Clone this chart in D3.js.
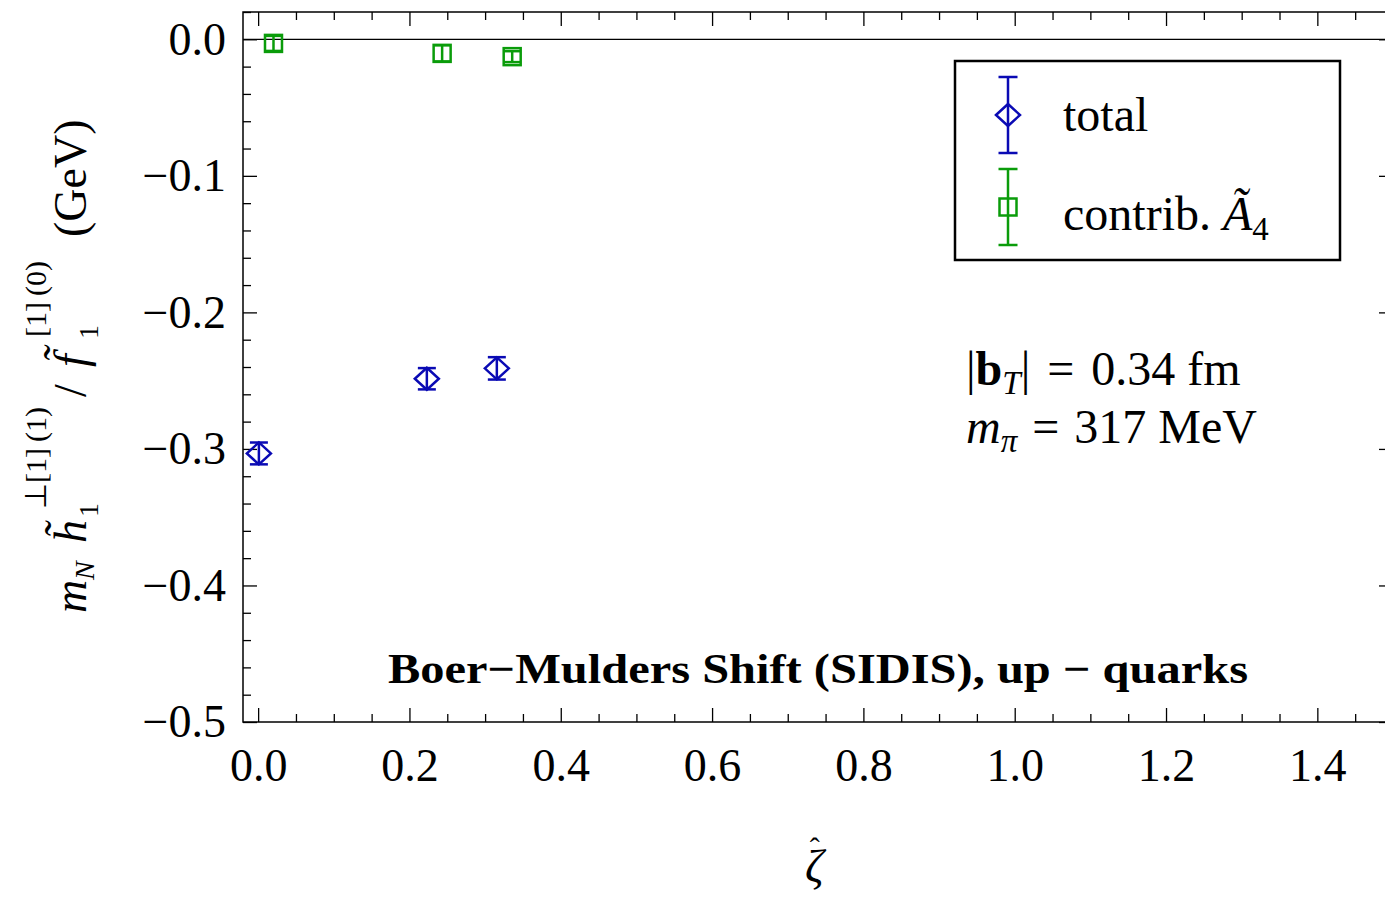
<!DOCTYPE html>
<html><head><meta charset="utf-8">
<script src="https://cdn.jsdelivr.net/npm/d3@7"></script>
<style>
html,body{margin:0;padding:0;background:#fff;}
svg{display:block;font-family:"Liberation Serif","Times New Roman",serif;}
</style></head>
<body>
<svg id="chart" width="1385" height="897"></svg>
<script>
// ---- data ----
const zetaTotal = [0.001, 0.223, 0.3155];
const valTotal  = [-0.3033, -0.2486, -0.2410];
const errTotal  = [0.0080, 0.0078, 0.0082];

const zetaA4 = [0.0203, 0.2432, 0.3358];
const valA4  = [-0.0030, -0.0103, -0.0127];
const errA4  = [0.0055, 0.0059, 0.0040];

const xMajorTicks = [0, 0.2, 0.4, 0.6, 0.8, 1.0, 1.2, 1.4];
const yMajorTicks = [0, -0.1, -0.2, -0.3, -0.4, -0.5];
const legendLabels = ["total", "contrib. "];
const titleText = "Boer\u2212Mulders Shift (SIDIS), up \u2212 quarks";

// ---- layout ----
const L = 243, R = 1393, T = 12, B = 722;
const blue = "#0a0ab4", green = "#0a9c0a";
const svg = d3.select("#chart");
const x = d3.scaleLinear().domain([-0.02, 1.5]).range([L, R]);
const y = d3.scaleLinear().domain([-0.5, 0.02]).range([B, T]);

const xMinor = d3.range(0, 1.5001, 0.05).filter(v => !xMajorTicks.some(m => Math.abs(m - v) < 1e-6));
const yMinor = d3.range(-0.5, 0.0201, 0.02).filter(v => !yMajorTicks.some(m => Math.abs(m - v) < 1e-6));
const fmt = d3.format(".1f");

function styleAxis(g){
  g.select(".domain").remove();
  g.selectAll(".tick line").attr("stroke", "#000").attr("stroke-width", 1.3);
  g.selectAll("text").attr("font-size", 46).attr("fill", "#000").attr("font-family", "Liberation Serif, serif");
}
// bottom
svg.append("g").attr("transform", `translate(0,${B})`)
  .call(d3.axisBottom(x).tickValues(xMajorTicks).tickSize(-14).tickPadding(26).tickFormat(fmt)).call(styleAxis);
svg.append("g").attr("transform", `translate(0,${B})`)
  .call(d3.axisBottom(x).tickValues(xMinor).tickSize(-8).tickFormat("")).call(styleAxis);
// top
svg.append("g").attr("transform", `translate(0,${T})`)
  .call(d3.axisTop(x).tickValues(xMajorTicks).tickSize(-14).tickFormat("")).call(styleAxis);
svg.append("g").attr("transform", `translate(0,${T})`)
  .call(d3.axisTop(x).tickValues(xMinor).tickSize(-8).tickFormat("")).call(styleAxis);
// left
svg.append("g").attr("transform", `translate(${L},0)`)
  .call(d3.axisLeft(y).tickValues(yMajorTicks).tickSize(-14).tickPadding(17).tickFormat(fmt)).call(styleAxis);
svg.append("g").attr("transform", `translate(${L},0)`)
  .call(d3.axisLeft(y).tickValues(yMinor).tickSize(-8).tickFormat("")).call(styleAxis);
// right
svg.append("g").attr("transform", `translate(${R},0)`)
  .call(d3.axisRight(y).tickValues(yMajorTicks).tickSize(-14).tickFormat("")).call(styleAxis);
svg.append("g").attr("transform", `translate(${R},0)`)
  .call(d3.axisRight(y).tickValues(yMinor).tickSize(-8).tickFormat("")).call(styleAxis);

// frame
svg.append("rect").attr("x", L).attr("y", T).attr("width", R - L).attr("height", B - T)
  .attr("fill", "none").attr("stroke", "#000").attr("stroke-width", 1.5);
// zero line
svg.append("line").attr("x1", L).attr("x2", R).attr("y1", y(0)).attr("y2", y(0))
  .attr("stroke", "#000").attr("stroke-width", 1.3);

// ---- data marks ----
function errorBars(g, xs, vs, es, color, capHalf){
  const d = xs.map((v, i) => ({x: v, y: vs[i], e: es[i]}));
  const gg = g.append("g").attr("stroke", color).attr("stroke-width", 2.5).attr("fill", "none");
  gg.selectAll(".v").data(d).join("line")
    .attr("x1", p => x(p.x)).attr("x2", p => x(p.x))
    .attr("y1", p => y(p.y + p.e)).attr("y2", p => y(p.y - p.e));
  gg.selectAll(".ct").data(d).join("line")
    .attr("x1", p => x(p.x) - capHalf).attr("x2", p => x(p.x) + capHalf)
    .attr("y1", p => y(p.y + p.e)).attr("y2", p => y(p.y + p.e));
  gg.selectAll(".cb").data(d).join("line")
    .attr("x1", p => x(p.x) - capHalf).attr("x2", p => x(p.x) + capHalf)
    .attr("y1", p => y(p.y - p.e)).attr("y2", p => y(p.y - p.e));
  return d;
}
const marks = svg.append("g");
const dT = errorBars(marks, zetaTotal, valTotal, errTotal, blue, 9);
marks.append("g").selectAll("path").data(dT).join("path")
  .attr("d", p => `M${x(p.x)-12},${y(p.y)}L${x(p.x)},${y(p.y)-11}L${x(p.x)+12},${y(p.y)}L${x(p.x)},${y(p.y)+11}Z`)
  .attr("fill", "none").attr("stroke", blue).attr("stroke-width", 2.5);
const dA = errorBars(marks, zetaA4, valA4, errA4, green, 8.5);
marks.append("g").selectAll("rect").data(dA).join("rect")
  .attr("x", p => x(p.x) - 8.5).attr("y", p => y(p.y) - 8.5).attr("width", 17).attr("height", 17)
  .attr("fill", "none").attr("stroke", green).attr("stroke-width", 2.5);

// ---- legend ----
const lg = svg.append("g");
lg.append("rect").attr("x", 955).attr("y", 61).attr("width", 385).attr("height", 199)
  .attr("fill", "#fff").attr("stroke", "#000").attr("stroke-width", 2.5);
function legendSym(cx, cy, color){
  const g = lg.append("g").attr("stroke", color).attr("stroke-width", 2.5).attr("fill", "none");
  g.append("line").attr("x1", cx).attr("x2", cx).attr("y1", cy - 38).attr("y2", cy + 38);
  g.append("line").attr("x1", cx - 9.5).attr("x2", cx + 9.5).attr("y1", cy - 38).attr("y2", cy - 38);
  g.append("line").attr("x1", cx - 9.5).attr("x2", cx + 9.5).attr("y1", cy + 38).attr("y2", cy + 38);
  return g;
}
legendSym(1008, 115, blue).append("path")
  .attr("d", `M996,115L1008,104L1020,115L1008,126Z`);
legendSym(1008, 207, green).append("rect")
  .attr("x", 999.5).attr("y", 198.5).attr("width", 17).attr("height", 17);
lg.append("text").attr("x", 1063).attr("y", 131).attr("font-size", 48).text(legendLabels[0]);
const t2 = lg.append("text").attr("x", 1063).attr("y", 230).attr("font-size", 48);
t2.append("tspan").text(legendLabels[1]);
t2.append("tspan").attr("font-style", "italic").text("\u00C3");
t2.append("tspan").attr("font-size", 33).attr("dy", 10).text("4");

// ---- annotations ----
const a1 = svg.append("text").attr("x", 966).attr("y", 385).attr("font-size", 48);
a1.append("tspan").text("|");
a1.append("tspan").attr("font-weight", "bold").text("b");
a1.append("tspan").attr("font-style", "italic").attr("font-size", 33).attr("dy", 9).text("T");
a1.append("tspan").attr("dy", -9).text("|");
a1.append("tspan").attr("dx", 17).text("=");
a1.append("tspan").attr("dx", 17).text("0.34 fm");
const a2 = svg.append("text").attr("x", 966).attr("y", 443).attr("font-size", 48);
a2.append("tspan").attr("font-style", "italic").text("m");
a2.append("tspan").attr("font-style", "italic").attr("font-size", 33).attr("dy", 9).text("\u03C0");
a2.append("tspan").attr("dy", -9).attr("dx", 15).text("=");
a2.append("tspan").attr("dx", 15).text("317 MeV");

// title
svg.append("text").attr("x", 818).attr("y", 683).attr("text-anchor", "middle")
  .attr("font-size", 42).attr("font-weight", "bold")
  .attr("textLength", 860).attr("lengthAdjust", "spacingAndGlyphs").text(titleText);

// x axis label: zeta with hat
const xl = svg.append("text").attr("x", 805).attr("y", 882).attr("font-size", 46);
xl.append("tspan").attr("font-style", "italic").text("\u03B6");
xl.append("tspan").attr("font-size", 30).attr("dx", -14).attr("dy", -24).text("\u02C6");

// y axis label (rotated)
const yl = svg.append("g").attr("transform", "translate(86,613) rotate(-90)").attr("font-size", 46);
yl.append("text").attr("x", 0).attr("y", 0).attr("font-style", "italic").text("m");
yl.append("text").attr("x", 33).attr("y", 8).attr("font-size", 28).attr("font-style", "italic").text("N");
yl.append("text").attr("x", 70).attr("y", 0).attr("font-style", "italic").text("h\u0303");
yl.append("text").attr("x", 104).attr("y", -40).attr("font-size", 30).text("\u22A5[1]\u2009(1)");
yl.append("text").attr("x", 96).attr("y", 12).attr("font-size", 28).text("1");
yl.append("text").attr("x", 216).attr("y", 0).text("/");
yl.append("text").attr("x", 246).attr("y", 0).attr("font-style", "italic").text("f\u0303");
yl.append("text").attr("x", 276).attr("y", -40).attr("font-size", 30).text("[1]\u2009(0)");
yl.append("text").attr("x", 274).attr("y", 12).attr("font-size", 28).text("1");
yl.append("text").attr("x", 376).attr("y", 0).text("(GeV)");
</script>
</body></html>
